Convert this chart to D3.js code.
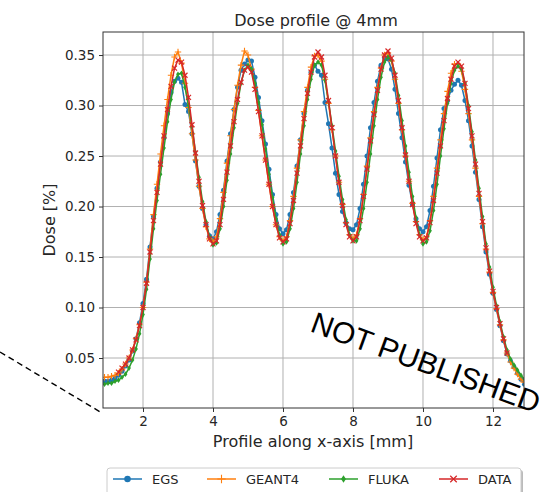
<!DOCTYPE html>
<html><head><meta charset="utf-8">
<script src="https://cdn.jsdelivr.net/npm/d3@7"></script>
<style>body{margin:0;background:#fff}svg{display:block}</style>
</head><body>
<svg id="c" width="552" height="492"></svg>
<script>
const xPositions = [
 0.9,1.0,1.1,1.2,1.3,1.4,1.5,1.6,1.7,1.8,
 1.9,2.0,2.1,2.2,2.3,2.4,2.5,2.6,2.7,2.8,
 2.9,3.0,3.1,3.2,3.3,3.4,3.5,3.6,3.7,3.8,
 3.9,4.0,4.1,4.2,4.3,4.4,4.5,4.6,4.7,4.8,
 4.9,5.0,5.1,5.2,5.3,5.4,5.5,5.6,5.7,5.8,
 5.9,6.0,6.1,6.2,6.3,6.4,6.5,6.6,6.7,6.8,
 6.9,7.0,7.1,7.2,7.3,7.4,7.5,7.6,7.7,7.8,
 7.9,8.0,8.1,8.2,8.3,8.4,8.5,8.6,8.7,8.8,
 8.9,9.0,9.1,9.2,9.3,9.4,9.5,9.6,9.7,9.8,
 9.9,10.0,10.1,10.2,10.3,10.4,10.5,10.6,10.7,10.8,
 10.9,11.0,11.1,11.2,11.3,11.4,11.5,11.6,11.7,11.8,
 11.9,12.0,12.1,12.2,12.3,12.4,12.5,12.6,12.7,12.8,
 12.9];
const egs = [
 0.027,0.027,0.028,0.030,0.033,0.037,0.042,0.048,0.057,0.069,
 0.085,0.104,0.128,0.160,0.190,0.218,0.244,0.268,0.292,0.313,
 0.324,0.327,0.323,0.301,0.294,0.272,0.245,0.220,0.198,0.182,
 0.171,0.168,0.175,0.192,0.216,0.245,0.272,0.296,0.318,0.335,
 0.341,0.345,0.344,0.328,0.308,0.285,0.262,0.237,0.212,0.192,
 0.178,0.173,0.177,0.192,0.214,0.240,0.266,0.292,0.315,0.333,
 0.340,0.334,0.330,0.303,0.282,0.258,0.233,0.212,0.195,0.184,
 0.178,0.177,0.182,0.198,0.222,0.250,0.278,0.303,0.324,0.340,
 0.347,0.346,0.336,0.316,0.292,0.268,0.244,0.221,0.202,0.188,
 0.178,0.175,0.180,0.196,0.220,0.248,0.276,0.297,0.305,0.315,
 0.321,0.325,0.320,0.305,0.285,0.260,0.234,0.207,0.180,0.155,
 0.133,0.114,0.098,0.082,0.067,0.054,0.047,0.041,0.035,0.029,
 0.024];
const geant4 = [
 0.031,0.031,0.032,0.033,0.035,0.039,0.044,0.050,0.058,0.069,
 0.083,0.100,0.125,0.158,0.192,0.222,0.252,0.280,0.306,0.330,
 0.348,0.353,0.342,0.322,0.298,0.272,0.246,0.220,0.198,0.180,
 0.168,0.165,0.170,0.188,0.214,0.243,0.270,0.296,0.320,0.340,
 0.354,0.350,0.336,0.318,0.295,0.270,0.246,0.222,0.200,0.182,
 0.170,0.166,0.170,0.186,0.210,0.238,0.266,0.294,0.318,0.338,
 0.349,0.350,0.344,0.326,0.302,0.276,0.250,0.224,0.202,0.184,
 0.172,0.168,0.172,0.188,0.212,0.240,0.268,0.294,0.318,0.337,
 0.350,0.352,0.344,0.326,0.302,0.276,0.250,0.225,0.203,0.185,
 0.172,0.167,0.170,0.186,0.210,0.238,0.266,0.292,0.314,0.332,
 0.341,0.341,0.334,0.316,0.292,0.266,0.238,0.210,0.183,0.158,
 0.135,0.115,0.099,0.083,0.068,0.055,0.046,0.040,0.034,0.029,
 0.026];
const fluka = [
 0.024,0.025,0.025,0.027,0.028,0.031,0.034,0.040,0.048,0.059,
 0.074,0.093,0.118,0.148,0.178,0.206,0.232,0.258,0.284,0.306,
 0.323,0.331,0.332,0.318,0.300,0.279,0.254,0.229,0.205,0.185,
 0.170,0.162,0.164,0.178,0.200,0.226,0.252,0.278,0.302,0.322,
 0.335,0.340,0.336,0.322,0.303,0.281,0.257,0.232,0.209,0.188,
 0.172,0.163,0.165,0.178,0.198,0.224,0.252,0.280,0.306,0.326,
 0.340,0.343,0.340,0.325,0.304,0.280,0.255,0.230,0.207,0.187,
 0.172,0.166,0.166,0.178,0.198,0.224,0.252,0.280,0.306,0.328,
 0.343,0.348,0.345,0.332,0.310,0.285,0.260,0.234,0.210,0.189,
 0.172,0.163,0.165,0.176,0.196,0.222,0.250,0.277,0.302,0.322,
 0.335,0.339,0.336,0.322,0.300,0.274,0.246,0.218,0.190,0.163,
 0.140,0.120,0.102,0.086,0.071,0.058,0.049,0.043,0.038,0.033,
 0.029];
const dataVals = [
 null,null,null,null,0.036,0.040,0.044,0.050,0.058,0.068,
 0.082,0.100,0.124,0.155,0.186,0.214,0.242,0.270,0.296,0.319,
 0.337,0.345,0.343,0.330,0.308,0.281,0.253,0.225,0.201,0.182,
 0.168,0.163,0.166,0.182,0.207,0.234,0.260,0.284,0.306,0.323,
 0.335,0.338,0.333,0.316,0.294,0.270,0.246,0.222,0.200,0.182,
 0.169,0.165,0.168,0.183,0.206,0.233,0.260,0.287,0.312,0.333,
 0.348,0.353,0.348,0.330,0.305,0.278,0.250,0.224,0.201,0.182,
 0.170,0.166,0.170,0.186,0.210,0.237,0.265,0.291,0.315,0.336,
 0.350,0.354,0.347,0.330,0.305,0.278,0.251,0.225,0.202,0.183,
 0.170,0.166,0.169,0.184,0.206,0.233,0.260,0.285,0.307,0.326,
 0.339,0.343,0.339,0.322,0.297,0.270,0.242,0.213,0.185,0.159,
 0.136,0.116,0.100,0.084,0.069,0.055,null,null,null,null,
 null];
const seriesNames = ["EGS", "GEANT4", "FLUKA", "DATA"];
const seriesColors = ["#1f77b4", "#ff7f0e", "#2ca02c", "#d62728"];
const seriesMarkers = ["circle", "plus", "diamond", "cross"];
const xTicks = [2, 4, 6, 8, 10, 12];
const yTicks = [0.05, 0.10, 0.15, 0.20, 0.25, 0.30, 0.35];
const yTickLabels = ["0.05", "0.10", "0.15", "0.20", "0.25", "0.30", "0.35"];
const titleText = "Dose profile @ 4mm";
const xLabelText = "Profile along x-axis [mm]";
const yLabelText = "Dose [%]";
const stampText = "NOT PUBLISHED";

const allSeries = [egs, geant4, fluka, dataVals];

const svg = d3.select("#c");
const L = 103, R = 524, T = 32, B = 408;
const x = d3.scaleLinear().domain([0.857, 12.886]).range([L, R]);
const y = d3.scaleLinear().domain([0.0005, 0.3728]).range([B, T]);
const font = "'DejaVu Sans', sans-serif";

svg.append("defs").append("clipPath").attr("id", "clip")
  .append("rect").attr("x", L).attr("y", T).attr("width", R - L).attr("height", B - T);

// grid
const grid = svg.append("g");
grid.selectAll(".gx").data(xTicks).join("line")
  .attr("x1", d => x(d)).attr("x2", d => x(d)).attr("y1", T).attr("y2", B)
  .attr("stroke", "#b0b0b0").attr("stroke-width", 1);
grid.selectAll(".gy").data(yTicks).join("line")
  .attr("y1", d => y(d)).attr("y2", d => y(d)).attr("x1", L).attr("x2", R)
  .attr("stroke", "#b0b0b0").attr("stroke-width", 1);

// axes
const xAxis = d3.axisBottom(x).tickValues(xTicks).tickSize(4).tickPadding(4).tickFormat(d3.format("d"));
const yAxis = d3.axisLeft(y).tickValues(yTicks).tickSize(4).tickPadding(4).tickFormat((d, i) => yTickLabels[i]);
const gx = svg.append("g").attr("transform", `translate(0,${B})`).call(xAxis);
const gy = svg.append("g").attr("transform", `translate(${L},0)`).call(yAxis);
[gx, gy].forEach(g => {
  g.select(".domain").remove();
  g.selectAll("line").attr("stroke", "#333");
  g.selectAll("text").attr("fill", "#262626").style("font-family", font).style("font-size", "13.5px");
});

// markers
function drawMarker(g, type, color, cx, cy, s) {
  s = s || 1;
  if (type === "circle") {
    g.append("circle").attr("cx", cx).attr("cy", cy).attr("r", 2.5 * s).attr("fill", color);
  } else if (type === "plus") {
    const a = 3.2 * s;
    g.append("path").attr("d", `M${cx-a},${cy}H${cx+a}M${cx},${cy-a}V${cy+a}`)
      .attr("stroke", color).attr("stroke-width", 1.1).attr("fill", "none");
  } else if (type === "diamond") {
    g.append("path").attr("d", `M${cx},${cy-2.8*s}L${cx+1.9*s},${cy}L${cx},${cy+2.8*s}L${cx-1.9*s},${cy}Z`)
      .attr("fill", color);
  } else if (type === "cross") {
    const a = 2.5 * s;
    g.append("path").attr("d", `M${cx-a},${cy-a}L${cx+a},${cy+a}M${cx-a},${cy+a}L${cx+a},${cy-a}`)
      .attr("stroke", color).attr("stroke-width", 1.2).attr("fill", "none");
  }
}
const plot = svg.append("g").attr("clip-path", "url(#clip)");
allSeries.forEach((vals, si) => {
  const pts = xPositions.map((xv, i) => [xv, vals[i]]);
  const line = d3.line().defined(d => d[1] !== null).x(d => x(d[0])).y(d => y(d[1]));
  const g = plot.append("g");
  g.append("path").datum(pts).attr("d", line).attr("fill", "none")
    .attr("stroke", seriesColors[si]).attr("stroke-width", 1.5);
  pts.filter(d => d[1] !== null).forEach(d => drawMarker(g, seriesMarkers[si], seriesColors[si], x(d[0]), y(d[1])));
});

// frame
svg.append("rect").attr("x", L).attr("y", T).attr("width", R - L).attr("height", B - T)
  .attr("fill", "none").attr("stroke", "#333").attr("stroke-width", 1);

// title and labels
svg.append("text").attr("x", 316).attr("y", 26).attr("text-anchor", "middle")
  .style("font-family", font).style("font-size", "16px").attr("fill", "#262626").text(titleText);
svg.append("text").attr("x", 313).attr("y", 447).attr("text-anchor", "middle")
  .style("font-family", font).style("font-size", "16px").attr("fill", "#262626").text(xLabelText);
svg.append("text").attr("transform", `translate(55,${(T + B) / 2}) rotate(-90)`).attr("text-anchor", "middle")
  .style("font-family", font).style("font-size", "16px").attr("fill", "#262626").text(yLabelText);

// legend
const lg = svg.append("g");
lg.append("rect").attr("x", 109).attr("y", 470).attr("width", 414).attr("height", 40).attr("rx", 3)
  .attr("fill", "#bbb");
lg.append("rect").attr("x", 107).attr("y", 468).attr("width", 414).attr("height", 40).attr("rx", 3)
  .attr("fill", "#fff").attr("stroke", "#ccc").attr("stroke-width", 1);
const legendX = [113, 207, 329, 439];
seriesNames.forEach((name, si) => {
  const lx = legendX[si], ly = 479;
  lg.append("line").attr("x1", lx).attr("x2", lx + 29).attr("y1", ly).attr("y2", ly)
    .attr("stroke", seriesColors[si]).attr("stroke-width", 1.5);
  drawMarker(lg, seriesMarkers[si], seriesColors[si], lx + 14.5, ly, 1.3);
  lg.append("text").attr("x", lx + 39).attr("y", ly + 4.5)
    .style("font-family", font).style("font-size", "13px").attr("fill", "#262626").text(name);
});

// dashed annotation line
svg.append("line").attr("x1", 0).attr("y1", 352).attr("x2", 102).attr("y2", 413)
  .attr("stroke", "#000").attr("stroke-width", 1.4).attr("stroke-dasharray", "6,4");

// stamp
svg.append("text").attr("transform", "translate(309,331) rotate(20)")
  .style("font-family", "'Liberation Sans', Arial, sans-serif").style("font-size", "30px")
  .attr("fill", "#000").text(stampText);
</script>
</body></html>
